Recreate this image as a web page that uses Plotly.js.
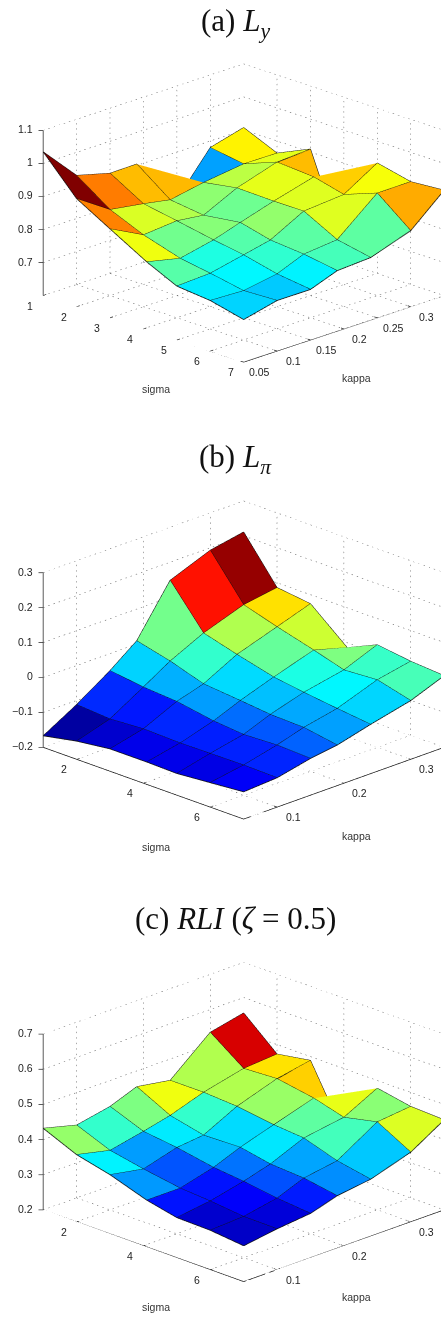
<!DOCTYPE html>
<html><head><meta charset="utf-8">
<script src="https://cdn.plot.ly/plotly-3.0.1.min.js"></script>
<style>html,body{margin:0;padding:0;background:#fff;overflow:hidden;width:441px;height:1319px}#p{width:484px;height:1319px}</style>
</head><body><div id="p"></div>
<script>
const sigma=[1,2,3,4.1,5,6,7];
const kappa=[0.05,0.1,0.15,0.19,0.24,0.3,0.35];
// rows: kappa index, columns: sigma index
const lyZ=[
[1.035,.927,.869,.806,.763,.753,.729],
[.930,.860,.817,.783,.768,.749,.753],
[.903,.844,.826,.805,.790,.766,.753],
[.904,.829,.816,.831,.808,.799,.783],
[.732,.848,.865,.862,.862,.809,.789],
[.880,.864,.903,.895,.872,.910,.830],
[.907,.863,.909,.611,.934,.911,.919]];
const lpiZ=[
[-.167,-.148,-.136,-.136,-.138,-.130,-.122],
[-.112,-.119,-.113,-.116,-.115,-.114,-.116],
[-.049,-.062,-.069,-.087,-.095,-.091,-.095],
[.009,-.015,-.046,-.056,-.065,-.068,-.084],
[.148,.031,.004,-.023,-.036,-.048,-.059],
[.193,.071,.042,.013,-.013,-.007,-.032],
[.211,.086,.074,-.014,.025,.012,.005]];
const rliZ=[
[.432,.391,.368,.333,.314,.312,.302],
[.407,.369,.350,.333,.327,.317,.316],
[.426,.389,.377,.358,.349,.335,.326],
[.455,.407,.385,.388,.371,.365,.349],
[.439,.439,.433,.418,.411,.380,.362],
[.535,.466,.471,.453,.429,.450,.398],
[.556,.473,.489,.295,.478,.460,.456]];
const jet=[[0,'rgb(0,0,143)'],[.125,'rgb(0,0,255)'],[.375,'rgb(0,255,255)'],[.625,'rgb(255,255,0)'],[.875,'rgb(255,0,0)'],[1,'rgb(128,0,0)']];
const W=484,H=1319;
const fontFam='"Liberation Sans",Arial,sans-serif';
const panels=[
 {z:lyZ,cr:[.611,1.035],zr:[.6,1.1],zt:[.7,.8,.9,1,1.1],st:[1,2,3,4,5,6,7],kt:[.05,.1,.15,.2,.25,.3],
  dom:[18,408],eyeH:.498,ar:.616,title:'(a) <i>L</i><sub><i>y</i></sub>',ty:23,sy:389,ky:378},
 {z:lpiZ,cr:[-.175,.202],zr:[-.2,.3],zt:[-.2,-.1,0,.1,.2,.3],st:[2,4,6],kt:[.1,.2,.3],
  dom:[465,855],eyeH:.542,ar:.658,title:'(b) <i>L</i><sub><i>π</i></sub>',ty:459,sy:847,ky:836},
 {z:rliZ,cr:[.295,.558],zr:[.2,.7],zt:[.2,.3,.4,.5,.6,.7],st:[2,4,6],kt:[.1,.2,.3],
  dom:[927,1317],eyeH:.542,ar:.662,title:'(c) <i>RLI</i> (<i>ζ</i> = 0.5)',ty:918,sy:1307,ky:1297}];
const traces=[];const layout={width:W,height:H,margin:{l:0,r:0,t:0,b:0},paper_bgcolor:'#fff',showlegend:false,annotations:[]};
const pad=[.07,.0035],padHi=[.02,.001];
const zoom=1.458;
panels.forEach((P,n)=>{
 const sc=n?'scene'+(n+1):'scene';
 const sx=[],sy=[],sz=[],I=[],J=[],K=[],C=[];
 const N=sigma.length,M=kappa.length;
 for(let j=0;j<M;j++)for(let i=0;i<N;i++){sx.push(sigma[i]);sy.push(kappa[j]);sz.push(P.z[j][i]);}
 const id=(i,j)=>j*N+i;
 for(let j=0;j<M-1;j++)for(let i=0;i<N-1;i++){
  I.push(id(i,j),id(i,j));J.push(id(i+1,j),id(i+1,j+1));K.push(id(i+1,j+1),id(i,j+1));
  C.push(P.z[j][i],P.z[j][i]);
 }
 const lo=P.zr[0],hi=P.zr[1],x0=sigma[0],x1=sigma[N-1],y0=kappa[0],y1=kappa[M-1];
 // dotted grid: each grid line is broken into short dashes
 const g={x:[],y:[],z:[]};
 const seg=(a,b)=>{
  const du=b[0]-a[0],dv=(b[1]-a[1])/.05,dz=(b[2]-a[2])*175/(hi-lo);
  const len=Math.hypot(33.5*(du+dv),11.5*(du-dv)-dz);
  const c=Math.max(1,Math.round(len/5.5));
  for(let q=0;q<c;q++){const f0=q/c,f1=(q+.26)/c;
   g.x.push(a[0]+(b[0]-a[0])*f0,a[0]+(b[0]-a[0])*f1,null);
   g.y.push(a[1]+(b[1]-a[1])*f0,a[1]+(b[1]-a[1])*f1,null);
   g.z.push(a[2]+(b[2]-a[2])*f0,a[2]+(b[2]-a[2])*f1,null);}
 };
 P.zt.forEach(t=>{seg([x0,y0,t],[x0,y1,t]);seg([x0,y1,t],[x1,y1,t]);});
 P.kt.filter(t=>t>y0).forEach(t=>{seg([x0,t,lo],[x0,t,hi]);seg([x0,t,lo],[x1,t,lo]);});
 P.st.filter(t=>t>x0).forEach(t=>{seg([t,y1,lo],[t,y1,hi]);seg([t,y0,lo],[t,y1,lo]);});
 seg([x0,y0,lo],[x0,y1,lo]);seg([x0,y1,lo],[x1,y1,lo]);
 traces.push({type:'scatter3d',scene:sc,mode:'lines',x:g.x,y:g.y,z:g.z,line:{color:'#555',width:1},hoverinfo:'skip',connectgaps:false});
 // axes
 const a={x:[],y:[],z:[]};const sa=(p,q)=>{a.x.push(p[0],q[0],null);a.y.push(p[1],q[1],null);a.z.push(p[2],q[2],null);};
 sa([x0,y0,lo],[x1,y0,lo]);sa([x1,y0,lo],[x1,y1,lo]);
 P.st.forEach(t=>sa([t,y0,lo],[t,y0+.0045,lo]));
 P.kt.forEach(t=>sa([x1,t,lo],[x1-.09,t,lo]));
 traces.push({type:'scatter3d',scene:sc,mode:'lines',x:a.x,y:a.y,z:a.z,line:{color:'#111',width:1.4},hoverinfo:'skip',connectgaps:false});
 const v={x:[],y:[],z:[]};
 v.x.push(x0,x0,null);v.y.push(y0,y0,null);v.z.push(lo,hi,null);
 P.zt.forEach(t=>{v.x.push(x0,x0-pad[0],null);v.y.push(y0,y0-pad[1],null);v.z.push(t,t,null);});
 traces.push({type:'scatter3d',scene:sc,mode:'lines',x:v.x,y:v.y,z:v.z,line:{color:'#444',width:1.6},hoverinfo:'skip',connectgaps:false});
 // surface
 traces.push({type:'mesh3d',scene:sc,x:sx,y:sy,z:sz,i:I,j:J,k:K,intensity:C,intensitymode:'cell',colorscale:jet,cmin:P.cr[0],cmax:P.cr[1],showscale:false,flatshading:true,
  lighting:{ambient:1,diffuse:0,specular:0,roughness:1,fresnel:0},hoverinfo:'skip'});
 // mesh lines
 const m={x:[],y:[],z:[]};
 for(let j=0;j<M;j++){for(let i=0;i<N;i++){m.x.push(sigma[i]);m.y.push(kappa[j]);m.z.push(P.z[j][i]);}m.x.push(null);m.y.push(null);m.z.push(null);}
 for(let i=0;i<N;i++){for(let j=0;j<M;j++){m.x.push(sigma[i]);m.y.push(kappa[j]);m.z.push(P.z[j][i]);}m.x.push(null);m.y.push(null);m.z.push(null);}
 traces.push({type:'scatter3d',scene:sc,mode:'lines',x:m.x,y:m.y,z:m.z,line:{color:'#111',width:1.6},hoverinfo:'skip',connectgaps:false});
 // labels
 const tf={family:fontFam,size:10.5,color:'#222'};
 const ann=[];
 P.st.forEach(t=>ann.push({x:t,y:y0,z:lo,text:String(t),showarrow:false,xshift:-13,yshift:-10,font:tf}));
 P.kt.forEach(t=>ann.push({x:x1,y:t,z:lo,text:String(t),showarrow:false,xshift:16,yshift:-10,font:tf}));
 P.zt.forEach(t=>ann.push({x:x0,y:y0,z:t,text:String(t).replace('-','\u2212'),showarrow:false,xanchor:'right',xshift:-8,yshift:1,font:tf}));
 const ax={title:{text:''},showgrid:false,zeroline:false,showline:false,showticklabels:false,ticks:'',showbackground:false,showspikes:false,autorange:false};
 layout[sc]={domain:{x:[0,1],y:[1-P.dom[1]/H,1-P.dom[0]/H]},
  xaxis:Object.assign({},ax,{range:[x0-pad[0],x1+padHi[0]]}),yaxis:Object.assign({},ax,{range:[y0-pad[1],y1+padHi[1]]}),zaxis:Object.assign({},ax,{range:P.zr}),
  aspectmode:'manual',aspectratio:{x:1.012*zoom,y:1.012*zoom,z:P.ar*zoom},
  camera:{eye:{x:1,y:-1,z:P.eyeH},up:{x:0,y:0,z:1},center:{x:0,y:0,z:0},projection:{type:'orthographic'}},annotations:ann,bgcolor:'#fff'};
 layout.annotations.push({xref:'paper',yref:'paper',xanchor:'center',yanchor:'middle',x:235/W,y:1-P.ty/H,text:P.title,showarrow:false,font:{family:'"Liberation Serif",serif',size:31,color:'#111'}});
 layout.annotations.push({xref:'paper',yref:'paper',xanchor:'center',yanchor:'middle',x:156/W,y:1-P.sy/H,text:'sigma',showarrow:false,font:{family:fontFam,size:10.5,color:'#333'}});
 layout.annotations.push({xref:'paper',yref:'paper',xanchor:'center',yanchor:'middle',x:356/W,y:1-P.ky/H,text:'kappa',showarrow:false,font:{family:fontFam,size:10.5,color:'#333'}});
});
Plotly.newPlot('p',traces,layout,{displayModeBar:false,responsive:false});
</script></body></html>
